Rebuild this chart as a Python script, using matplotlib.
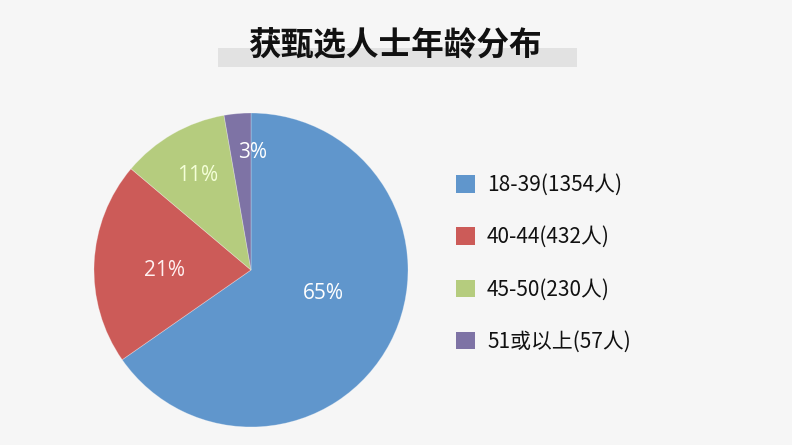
import matplotlib
matplotlib.use("Agg")
import matplotlib.pyplot as plt
import numpy as np
from matplotlib.patches import Rectangle

plt.rcParams['font.family'] = ['Noto Sans CJK SC', 'DejaVu Sans']

title = "获甄选人士年龄分布"
categories = ["18-39", "40-44", "45-50", "51或以上"]
counts = [1354, 432, 230, 57]
colors = ["#6096CC", "#CC5B58", "#B5CC7E", "#7E73A5"]
label_colors = ["#FFFFFF", "#FFF0F0", "#F4FFD8", "#FFFFFF"]
label_dist = [0.483, 0.548, 0.69, 0.747]
label_ang_offset = [9.2, 3.3, -0.2, -5.5]

W, H = 792, 445
fig = plt.figure(figsize=(W / 100, H / 100), dpi=100)
fig.patch.set_facecolor("#F6F6F6")

# title band
fig.patches.append(Rectangle((218 / W, 1 - 67 / H), (577 - 218) / W, 19 / H,
                             transform=fig.transFigure, facecolor="#E2E2E2",
                             edgecolor="none", zorder=0))
fig.text(395 / W, 1 - 46 / H, title, ha="center", va="center",
         fontsize=23.5, fontweight="bold", color="#111111", zorder=2)

cx, cy, r = 251, 270, 157
ax = fig.add_axes([(cx - r) / W, (H - cy - r) / H, 2 * r / W, 2 * r / H])
ax.set_facecolor("none")
wedges, texts, autotexts = ax.pie(
    counts, colors=colors, startangle=90, counterclock=False,
    autopct=lambda p: f"{p:.0f}%", pctdistance=0.5,
    wedgeprops=dict(linewidth=0.6, edgecolor=(1, 1, 1, 0.3)),
    textprops=dict(fontsize=15, family=["Open Sans", "DejaVu Sans"]))
for w, t, d, o, c in zip(wedges, autotexts, label_dist, label_ang_offset, label_colors):
    ang = np.deg2rad((w.theta1 + w.theta2) / 2 + o)
    t.set_position((d * np.cos(ang), d * np.sin(ang)))
    t.set_color(c)
ax.set_xlim(-1, 1)
ax.set_ylim(-1, 1)
ax.set_aspect("auto")
ax.axis("off")

labels = [f"{c}({n}人)" for c, n in zip(categories, counts)]
leg = fig.legend(wedges, labels, loc="upper left",
                 bbox_to_anchor=(456 / W, 1 - 174 / H),
                 frameon=False, fontsize=15, labelspacing=1.45,
                 handlelength=0.91, handleheight=0.91, handletextpad=0.58,
                 borderpad=0, borderaxespad=0)
for h in leg.legend_handles:
    h.set_edgecolor("none")
for t in leg.get_texts():
    t.set_color("#111111")

fig.savefig("out.png", dpi=100, facecolor=fig.get_facecolor())
